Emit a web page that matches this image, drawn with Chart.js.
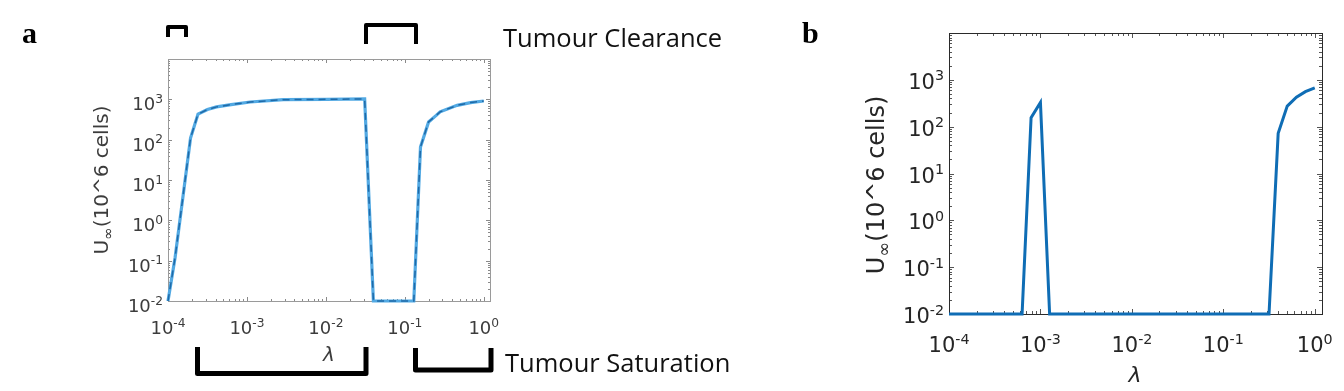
<!DOCTYPE html>
<html>
<head>
<meta charset="UTF-8">
<title>Tumour size vs lambda</title>
<script src="https://cdn.jsdelivr.net/npm/chart.js"></script>
<style>
    body { margin: 0; background: #fff; width: 1344px; height: 391px; position: relative; overflow: hidden; }
    canvas { position: absolute; top: 0; }
    #chartA { left: 0; }
    #chartB { left: 780px; }
</style>
</head>
<body>
<canvas id="chartA" width="780" height="391"></canvas>
<canvas id="chartB" width="564" height="391"></canvas>
<script>
// panel a : U_inf against lambda
const lambdaA = [1e-4, 1.23e-4, 1.93e-4, 2.4e-4, 3.16e-4, 4.12e-4, 6.3e-4, 1.1e-3, 2.9e-3, 1e-2, 3.1e-2, 4e-2, 0.13, 0.158, 0.2, 0.25, 0.28, 0.46, 0.68, 1.0];
const uA      = [0.01, 0.12, 110, 430, 560, 650, 740, 860, 980, 1000, 1020, 0.01, 0.01, 66, 275, 400, 490, 710, 830, 910];

// panel b
const lambdaB = [1e-4, 6.3e-4, 7.9e-4, 1e-3, 1.26e-3, 0.316, 0.398, 0.5, 0.63, 0.79, 1.0];
const uB      = [0.01, 0.01, 155, 330, 0.01, 0.01, 72, 275, 425, 560, 675];

// tick labels (10^exp)
const xTickVals = [1e-4, 1e-3, 1e-2, 1e-1, 1];
const xTickExp  = ['-4', '-3', '-2', '-1', '0'];
const yTickVals = [1e-2, 1e-1, 1, 10, 100, 1000];
const yTickExp  = ['-2', '-1', '0', '1', '2', '3'];

const toPoints = (xs, ys) => xs.map((x, i) => ({ x: x, y: ys[i] }));

function drawPow(ctx, exp, x, y, size, align) {
    const eSize = size * 0.68;
    ctx.font = size + 'px "DejaVu Sans"';
    const w10 = ctx.measureText('10').width;
    ctx.font = eSize + 'px "DejaVu Sans"';
    const wE = ctx.measureText(exp).width;
    let x0 = align === 'right' ? x - w10 - wE : x - (w10 + wE) / 2;
    ctx.textAlign = 'left';
    ctx.textBaseline = 'alphabetic';
    ctx.font = size + 'px "DejaVu Sans"';
    ctx.fillText('10', x0, y);
    ctx.font = eSize + 'px "DejaVu Sans"';
    ctx.fillText(exp, x0 + w10, y - size * 0.4);
}

// matlab style box, inner ticks and labels
const matlabAxes = {
    id: 'matlabAxes',
    beforeDatasetsDraw(chart, args, o) {
        const ctx = chart.ctx, a = chart.chartArea;
        const xs = chart.scales.x, ys = chart.scales.y;
        ctx.save();
        ctx.strokeStyle = o.tickColor;
        ctx.lineWidth = 1;
        ctx.beginPath();
        for (let d = -4; d <= 0; d++) {
            for (let k = 1; k <= 9; k++) {
                const v = k * Math.pow(10, d);
                if (v > xs.max) continue;
                const px = Math.round(xs.getPixelForValue(v)) + 0.5;
                const len = k === 1 ? o.major : o.minor;
                ctx.moveTo(px, a.bottom); ctx.lineTo(px, a.bottom - len);
                ctx.moveTo(px, a.top); ctx.lineTo(px, a.top + len);
            }
        }
        for (let d = -2; d <= 3; d++) {
            for (let k = 1; k <= 9; k++) {
                const v = k * Math.pow(10, d);
                const py = Math.round(ys.getPixelForValue(v)) + 0.5;
                const len = k === 1 ? o.major : o.minor;
                ctx.moveTo(a.left, py); ctx.lineTo(a.left + len, py);
                ctx.moveTo(a.right, py); ctx.lineTo(a.right - len, py);
            }
        }
        ctx.stroke();
        ctx.strokeStyle = o.boxColor;
        ctx.lineWidth = o.boxWidth;
        ctx.strokeRect(a.left + 0.5, a.top + 0.5, a.right - a.left, a.bottom - a.top);
        ctx.restore();
    },
    afterDraw(chart, args, o) {
        const ctx = chart.ctx, a = chart.chartArea;
        const xs = chart.scales.x, ys = chart.scales.y;
        ctx.save();
        ctx.fillStyle = o.textColor;
        xTickVals.forEach((v, i) => drawPow(ctx, xTickExp[i], xs.getPixelForValue(v), a.bottom + o.xLabelOff, o.fontSize, 'center'));
        yTickVals.forEach((v, i) => drawPow(ctx, yTickExp[i], a.left - o.yGap, ys.getPixelForValue(v) + o.yLabelOff, o.fontSize, 'right'));

        // y title U_inf (10^6 cells)
        const ts = o.titleSize;
        ctx.translate(o.yTitle[0], o.yTitle[1]);
        ctx.rotate(-Math.PI / 2);
        ctx.font = ts + 'px "DejaVu Sans"';
        const wU = ctx.measureText('U').width;
        const wR = ctx.measureText('(10^6 cells)').width;
        ctx.font = (ts * 0.75) + 'px "DejaVu Sans"';
        const wInf = ctx.measureText('\u221E').width;
        let x0 = -(wU + wInf + wR) / 2;
        ctx.textAlign = 'left';
        ctx.font = ts + 'px "DejaVu Sans"';
        ctx.fillText('U', x0, 0);
        ctx.font = (ts * 0.75) + 'px "DejaVu Sans"';
        ctx.fillText('\u221E', x0 + wU, ts * 0.25);
        ctx.font = ts + 'px "DejaVu Sans"';
        ctx.fillText('(10^6 cells)', x0 + wU + wInf, 0);
        ctx.setTransform(1, 0, 0, 1, 0, 0);

        // x title
        ctx.font = 'italic ' + o.lambdaSize + 'px "DejaVu Sans"';
        ctx.textAlign = 'center';
        ctx.fillText('\u03BB', o.lambda[0], o.lambda[1]);

        // panel letter
        ctx.fillStyle = '#000';
        ctx.textAlign = 'left';
        ctx.font = 'bold 30px "Liberation Serif"';
        ctx.fillText(o.letter, o.letterPos[0], o.letterPos[1]);
        ctx.restore();
    }
};

// brackets and region names for panel a
const regionMarks = {
    id: 'regionMarks',
    afterDraw(chart) {
        const ctx = chart.ctx;
        ctx.save();
        ctx.strokeStyle = '#000';
        ctx.lineJoin = 'round';
        ctx.lineWidth = 4;
        ctx.beginPath();
        ctx.moveTo(168, 37); ctx.lineTo(168, 27); ctx.lineTo(186, 27); ctx.lineTo(186, 37);
        ctx.moveTo(366, 44); ctx.lineTo(366, 25); ctx.lineTo(416, 25); ctx.lineTo(416, 44);
        ctx.stroke();
        ctx.lineWidth = 5;
        ctx.beginPath();
        ctx.moveTo(197.5, 347); ctx.lineTo(197.5, 373.5); ctx.lineTo(366, 373.5); ctx.lineTo(366, 347);
        ctx.moveTo(415.5, 348); ctx.lineTo(415.5, 370); ctx.lineTo(491, 370); ctx.lineTo(491, 348);
        ctx.stroke();
        ctx.fillStyle = '#111';
        ctx.font = '25.5px "Open Sans"';
        ctx.textAlign = 'left';
        ctx.fillText('Tumour Clearance', 503, 47);
        ctx.fillText('Tumour Saturation', 505, 372);
        ctx.restore();
    }
};

function makeChart(id, datasets, pad, axesOpts, extraPlugins) {
    return new Chart(document.getElementById(id), {
        type: 'line',
        data: { datasets: datasets },
        options: {
            responsive: false,
            animation: false,
            layout: { padding: pad },
            scales: {
                x: { type: 'logarithmic', min: 1e-4, max: 1.2, display: false },
                y: { type: 'logarithmic', min: 1e-2, max: 1e4, display: false }
            },
            plugins: {
                legend: { display: false },
                tooltip: { enabled: false },
                matlabAxes: axesOpts
            }
        },
        plugins: [matlabAxes].concat(extraPlugins)
    });
}

// dashed dark line sits on top of the light blue one (dataset 0 is drawn last)
makeChart('chartA', [
    { data: toPoints(lambdaA, uA), borderColor: '#1f6aa8', borderWidth: 1.5, borderDash: [7, 5], pointRadius: 0, tension: 0, clip: false },
    { data: toPoints(lambdaA, uA), borderColor: '#52a9e3', borderWidth: 3.2, pointRadius: 0, tension: 0, clip: false }
], { left: 168, top: 59, right: 290, bottom: 90 }, {
    tickColor: '#8a8a8a', boxColor: '#9a9a9a', boxWidth: 1, major: 4, minor: 2,
    textColor: '#3c3c3c', fontSize: 18, xLabelOff: 33, yGap: 5, yLabelOff: 11,
    titleSize: 20, yTitle: [108, 180], lambda: [329, 361], lambdaSize: 20,
    letter: 'a', letterPos: [22, 43]
}, [regionMarks]);

makeChart('chartB', [
    { data: toPoints(lambdaB, uB), borderColor: '#0f6db5', borderWidth: 3, pointRadius: 0, tension: 0, clip: false }
], { left: 169, top: 33, right: 22, bottom: 77 }, {
    tickColor: '#555', boxColor: '#2a2a2a', boxWidth: 1, major: 5, minor: 3,
    textColor: '#262626', fontSize: 21, xLabelOff: 38, yGap: 5, yLabelOff: 9,
    titleSize: 24, yTitle: [104, 185], lambda: [355, 382], lambdaSize: 22,
    letter: 'b', letterPos: [22, 43]
}, []);
</script>
</body>
</html>
